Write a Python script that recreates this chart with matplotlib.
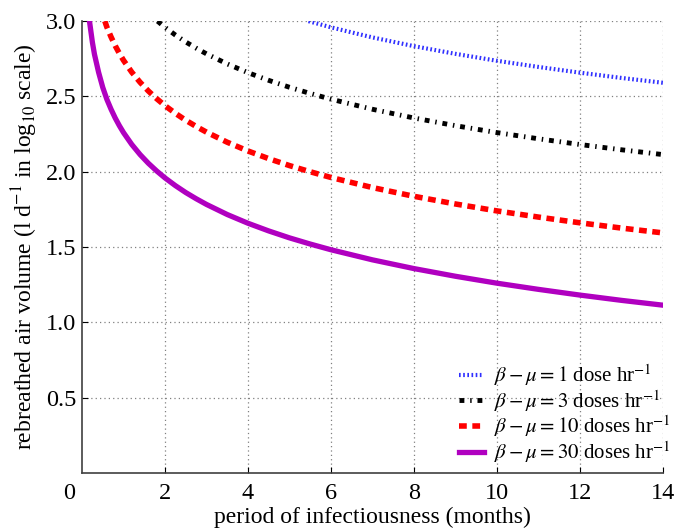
import numpy as np
import matplotlib
matplotlib.use('Agg')
import matplotlib.pyplot as plt

plt.rcParams['font.family'] = ['Liberation Serif', 'DejaVu Serif']
plt.rcParams['mathtext.fontset'] = 'stix'

# values (months, log10 l/d)
t_30 = [0.18, 0.2, 0.25, 0.3, 0.35, 0.4, 0.45, 0.5, 0.6, 0.7, 0.8, 0.9, 1.0, 1.2, 1.4, 1.6,
        1.8, 2.0, 2.25, 2.5, 2.75, 3.0, 3.5, 4, 4.5, 5, 5.5, 6, 7, 8, 9, 10, 11, 12, 13, 14]
v_30 = [3.0, 2.96, 2.86, 2.78, 2.72, 2.66, 2.61, 2.56, 2.48, 2.415, 2.357, 2.306, 2.26,
        2.181, 2.114, 2.056, 2.005, 1.959, 1.908, 1.862, 1.821, 1.783, 1.716, 1.658, 1.607,
        1.561, 1.52, 1.482, 1.415, 1.357, 1.306, 1.26, 1.219, 1.181, 1.146, 1.114]
t_10 = [0.55, 0.6, 0.7, 0.8, 0.9, 1.0, 1.2, 1.4, 1.6, 1.8, 2.0, 2.25, 2.5, 2.75, 3, 3.5, 4,
        4.5, 5, 5.5, 6, 7, 8, 9, 10, 11, 12, 13, 14]
v_10 = [3.0, 2.96, 2.895, 2.837, 2.786, 2.74, 2.661, 2.594, 2.536, 2.485, 2.439, 2.388,
        2.342, 2.301, 2.263, 2.196, 2.138, 2.087, 2.041, 2.0, 1.962, 1.895, 1.837, 1.786,
        1.74, 1.699, 1.661, 1.626, 1.594]
t_3 = [1.82, 2.0, 2.25, 2.5, 2.75, 3, 3.5, 4, 4.5, 5, 5.5, 6, 7, 8, 9, 10, 11, 12, 13, 14]
v_3 = [3.0, 2.959, 2.908, 2.862, 2.821, 2.783, 2.716, 2.658, 2.607, 2.561, 2.52, 2.482,
       2.415, 2.357, 2.306, 2.26, 2.219, 2.181, 2.146, 2.114]
t_1 = [5.46, 6, 7, 8, 9, 10, 11, 12, 13, 14]
v_1 = [3.0, 2.959, 2.892, 2.834, 2.783, 2.737, 2.696, 2.658, 2.623, 2.591]

labels = [r'$\beta - \mu = 1$ dose hr$^{-1}$',
          r'$\beta - \mu = 3$ doses hr$^{-1}$',
          r'$\beta - \mu = 10$ doses hr$^{-1}$',
          r'$\beta - \mu = 30$ doses hr$^{-1}$']

fig = plt.figure(figsize=(6.75, 5.29), dpi=100)
ax = fig.add_axes([0.1215, 0.106, 0.8605, 0.854])

ax.plot(t_1, v_1, color='#3030ff', lw=3, dashes=(0.4, 0.6), label=labels[0])
ax.plot(t_3, v_3, color='black', lw=3.5, dashes=(1.0, 1.2, 0.3, 1.2), label=labels[1])
ax.plot(t_10, v_10, color='#ff0000', lw=4, dashes=(1.4, 1.0), label=labels[2])
ax.plot(t_30, v_30, color='#b000c0', lw=3.8, label=labels[3])

ax.set_xlim(0, 14)
ax.set_ylim(0, 3)
ax.set_xticks([2, 4, 6, 8, 10, 12, 14])
ax.set_yticks([0.5, 1.0, 1.5, 2.0, 2.5, 3.0])
ax.set_yticklabels(['0.5', '1.0', '1.5', '2.0', '2.5', '3.0'])
ax.grid(True, color='#808080', linestyle=(0, (1, 2.5)), linewidth=0.9)
ax.tick_params(direction='in', length=4, labelsize=17.5, pad=4)
ax.tick_params(axis='x', pad=7)
ax.spines['top'].set_visible(False)
ax.spines['right'].set_visible(False)
for s in ['left', 'bottom']:
    ax.spines[s].set_color('#404040')
    ax.spines[s].set_linewidth(1.2)

ax.text(-0.32, -0.022, '0', ha='center', va='top', fontsize=17.5,
        transform=ax.get_xaxis_transform())

ax.set_xlabel('period of infectiousness (months)', fontsize=17, labelpad=2)
ax.set_ylabel(r'rebreathed air volume (l d$^{-1}$ in log$_{10}$ scale)', fontsize=17,
              labelpad=4)

ax.legend(loc='lower right', bbox_to_anchor=(1.035, -0.01), frameon=False, fontsize=15,
          handlelength=1.2, handletextpad=0.5, labelspacing=0.0, borderpad=0.1)

fig.savefig('out.png', dpi=100)
